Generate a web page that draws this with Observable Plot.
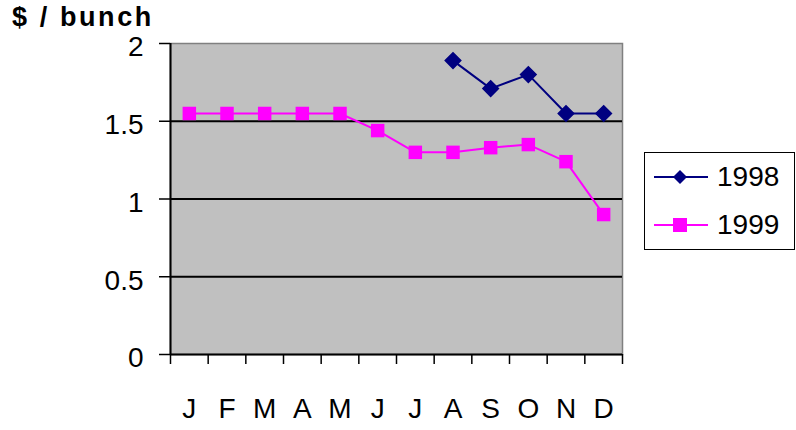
<!DOCTYPE html>
<html><head><meta charset="utf-8">
<script src="https://cdn.jsdelivr.net/npm/d3@7"></script>
<script src="https://cdn.jsdelivr.net/npm/@observablehq/plot@0.6"></script>
<style>
body{margin:0;background:#fff;font-family:"Liberation Sans",Arial,sans-serif;}
#wrap{position:relative;width:796px;height:430px;}
#title{position:absolute;left:12px;top:2px;font-size:27px;font-weight:bold;color:#000;letter-spacing:2.6px;white-space:nowrap;}
#legend{position:absolute;left:644px;top:152px;width:151px;height:98px;border:1.5px solid #000;box-sizing:border-box;background:#fff;}
.row{position:absolute;left:8px;font-size:28px;display:flex;align-items:center;height:32px;}
.row span{margin-left:8px;}
</style></head><body>
<div id="wrap"><div id="title">$ / bunch</div><div id="legend"></div></div>
<script>
const months = ["J","F","M","A","M","J","J","A","S","O","N","D"];
const series = ["1998","1999"];
const v1998 = [null,null,null,null,null,null,null,1.89,1.71,1.80,1.55,1.55];
const v1999 = [1.55,1.55,1.55,1.55,1.55,1.44,1.30,1.30,1.33,1.35,1.24,0.90];
const yTicks = [0,0.5,1,1.5,2];
const gridTicks = [0.5,1,1.5];
const colors = {"1998":"#000080","1999":"#ff00ff"};

const diamond = {draw(ctx, size){const r = Math.sqrt(size/2); ctx.moveTo(0,-r); ctx.lineTo(r,0); ctx.lineTo(0,r); ctx.lineTo(-r,0); ctx.closePath();}};

const rows = [];
months.forEach((m,i)=>{
  if (v1998[i]!=null) rows.push({s:"1998", i, v:v1998[i]});
  if (v1999[i]!=null) rows.push({s:"1999", i, v:v1999[i]});
});
const boundaries = d3.range(0, months.length+1);

const chart = Plot.plot({
  width: 796, height: 430,
  marginLeft: 170, marginRight: 174, marginTop: 43, marginBottom: 76,
  style: {fontFamily: "Liberation Sans, Arial, sans-serif", background: "transparent"},
  x: {domain: [0, months.length], axis: null},
  y: {domain: [0, 2], axis: null},
  marks: [
    Plot.frame({fill: "#c0c0c0", stroke: "#808080", strokeWidth: 1.5}),
    Plot.ruleY(gridTicks, {stroke: "#000", strokeWidth: 2}),
    Plot.ruleY([0], {stroke: "#000", strokeWidth: 2}),
    Plot.ruleX([0], {stroke: "#000", strokeWidth: 2}),
    Plot.axisY({ticks: yTicks, label: null, tickSize: 11, tickFormat: () => "", stroke: "#000", strokeWidth: 1.5}),
    Plot.axisY({ticks: yTicks, label: null, tickSize: 0, tickPadding: 27, dy: 4, fontSize: 28, tickFormat: d=>String(d), color: "#000"}),
    Plot.axisX({ticks: boundaries, label: null, tickSize: 10, tickFormat: () => "", stroke: "#000", strokeWidth: 1.5}),
    Plot.axisX({ticks: d3.range(months.length).map(i=>i+0.5), label: null, tickFormat: d=>months[Math.floor(d)], tickSize: 0, tickPadding: 44, fontSize: 28, color: "#000"}),
    Plot.line(rows, {x: d=>d.i+0.5, y: "v", z: "s", stroke: d=>colors[d.s], strokeWidth: 2}),
    Plot.dot(rows.filter(d=>d.s==="1998"), {x: d=>d.i+0.5, y: "v", symbol: diamond, r: 6.2, fill: "#000080", stroke: "#000080"}),
    Plot.dot(rows.filter(d=>d.s==="1999"), {x: d=>d.i+0.5, y: "v", symbol: "square", r: 7.6, fill: "#ff00ff", stroke: "none"})
  ]
});
document.getElementById("wrap").prepend(chart);
chart.style.position = "absolute"; chart.style.left = "0"; chart.style.top = "0";

const leg = document.getElementById("legend");
[["1998", 24], ["1999", 72]].forEach(([s, top])=>{
  const row = document.createElement("div");
  row.className = "row"; row.style.top = (top-16)+"px";
  const sym = s==="1998"
    ? `<path d="M27,9 L34,16 L27,23 L20,16 Z" fill="#000080"/>`
    : `<rect x="20" y="9" width="14" height="14" fill="#ff00ff"/>`;
  row.innerHTML = `<svg width="56" height="32"><line x1="1" x2="55" y1="16" y2="16" stroke="${colors[s]}" stroke-width="2"/>${sym}</svg><span>${s}</span>`;
  leg.appendChild(row);
});
</script>
</body></html>
